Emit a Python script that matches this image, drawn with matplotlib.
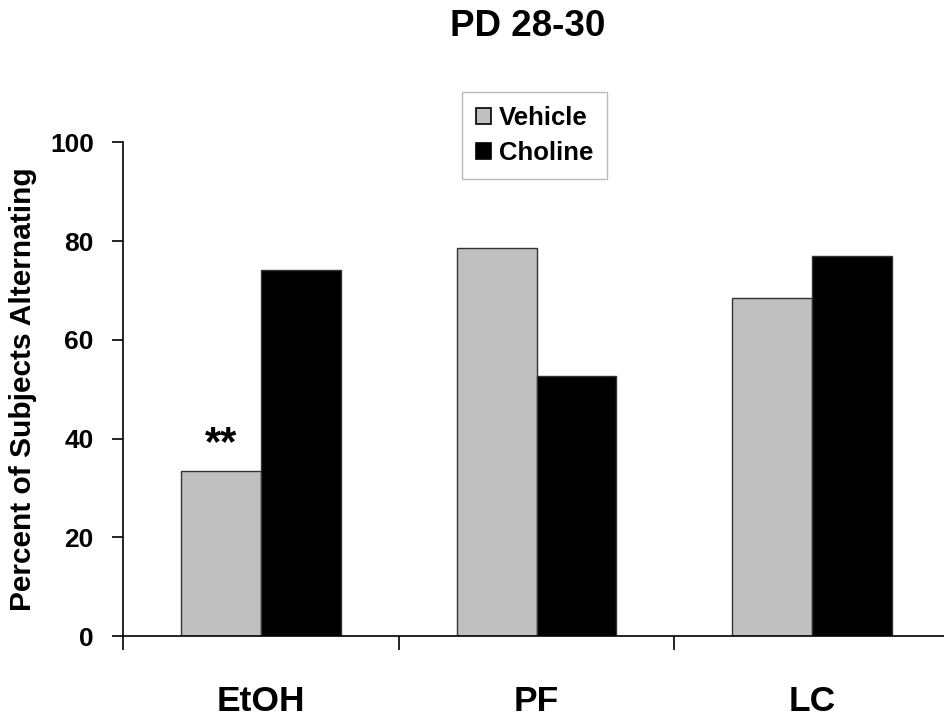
import matplotlib
matplotlib.use("Agg")
import matplotlib.pyplot as plt
from matplotlib.patches import Patch
import numpy as np

categories = ["EtOH", "PF", "LC"]
vehicle = [33.4, 78.6, 68.4]
choline = [74.1, 52.6, 76.9]
series_names = ["Vehicle", "Choline"]
yticks = [0, 20, 40, 60, 80, 100]

plt.rcParams['font.family'] = ['Liberation Sans', 'DejaVu Sans']
plt.rcParams['font.weight'] = 'bold'

fig = plt.figure(figsize=(9.44, 7.19), dpi=100)
ax = fig.add_axes([123/944, 83/719, 827/944, 493.7/719])

x = np.arange(len(categories)) + 0.5
w = 0.289
ax.bar(x - w/2, vehicle, width=w, color='#c0c0c0', edgecolor='#333333', linewidth=1.0)
ax.bar(x + w/2, choline, width=w, color='black', edgecolor='#333333', linewidth=1.0)

ax.set_xlim(0, 3)
ax.set_ylim(0, 100)
ax.set_yticks(yticks)
ax.set_yticklabels([str(t) for t in yticks], fontsize=19, fontweight='bold')
ax.set_xticks([0, 1, 2, 3])
ax.set_xticklabels([])
ax.set_xticks(x, minor=True)
ax.set_xticklabels(categories, minor=True, fontsize=25.5, fontweight='bold')
ax.tick_params(axis='x', which='minor', length=0, pad=35)
ax.tick_params(axis='x', which='major', length=10, width=1.2, direction='out')
ax.tick_params(axis='y', length=8, width=1.2, direction='out', pad=13)

for s in ['top', 'right']:
    ax.spines[s].set_visible(False)
for s in ['left', 'bottom']:
    ax.spines[s].set_linewidth(1.2)

ax.set_ylabel("Percent of Subjects Alternating", fontsize=21.5, fontweight='bold', labelpad=9)

ax.text(x[0] - w/2, vehicle[0] + 1.5, "**", ha='center', va='bottom', fontsize=30, fontweight='bold')

fig.text(527.5/944, 1 - 27/719, "PD 28-30", ha='center', va='center', fontsize=26.5, fontweight='bold')

handles = [Patch(facecolor='#c0c0c0', edgecolor='black', linewidth=1.2),
           Patch(facecolor='black', edgecolor='black', linewidth=1.2)]
leg = fig.legend(handles, series_names, loc='center', bbox_to_anchor=(534.5/944, 1 - 135.5/719),
                 prop={'size': 18.5, 'weight': 'bold'}, handlelength=0.6, handleheight=0.6,
                 handletextpad=0.3, fancybox=False, frameon=True, borderpad=0.55, labelspacing=0.45)
leg.get_frame().set_edgecolor('#aaaaaa')
leg.get_frame().set_linewidth(1.0)

fig.savefig("out.png", dpi=100)
